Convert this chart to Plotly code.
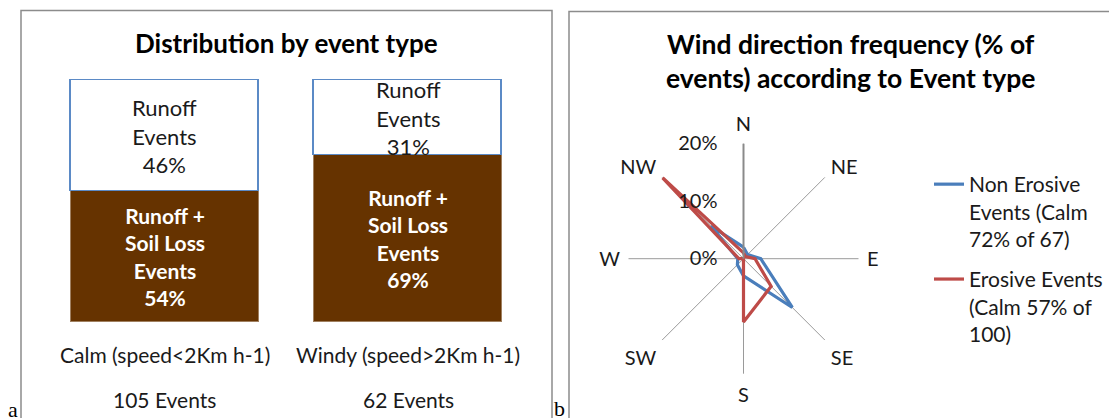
import plotly.graph_objects as go

# ---- Panel a data ----
categories = ["Calm (speed<2Km h-1)", "Windy (speed>2Km h-1)"]
event_counts = [105, 62]
soil_loss_share = [0.54, 0.69]
runoff_share = [0.46, 0.31]

# ---- Panel b data ----
directions = ["N", "NE", "E", "SE", "S", "SW", "W", "NW"]
non_erosive = [0.02, 0.01, 0.03, 0.12, 0.03, 0.015, 0.01, 0.08]
erosive = [0.01, 0.005, 0.02, 0.068, 0.11, 0.0, 0.008, 0.199]
radial_ticks = [0, 0.1, 0.2]
radial_ticktext = ["0%", "10%", "20%"]
series_names = ["Non Erosive<br>Events (Calm<br>72% of 67)",
                "Erosive Events<br>(Calm 57% of<br>100)"]

W, H = 1109, 418
FONT = "Lato"
BROWN = "#663300"
BLUE = "#4A7EBB"
RED = "#BE4B48"
YMAX = 1.02

def px_x(x):
    return x / W

def px_y(y):
    return 1 - y / H

fig = go.Figure()

fig.add_trace(go.Bar(
    x=categories, y=soil_loss_share, marker=dict(color=BROWN, line=dict(color="#a08060", width=1)),
    width=0.772, showlegend=False, hoverinfo="skip", xaxis="x", yaxis="y"))
fig.add_trace(go.Bar(
    x=categories, y=runoff_share, marker=dict(color="white", line=dict(color="#5B8AC6", width=1.5)),
    width=0.772, showlegend=False, hoverinfo="skip", xaxis="x", yaxis="y"))

annotations = []
for i, cat in enumerate(categories):
    b = soil_loss_share[i]
    t = runoff_share[i]
    annotations.append(dict(
        x=cat, y=b + t / 2, xref="x", yref="y", showarrow=False, xanchor="center", yanchor="middle",
        text=f"Runoff<br>Events<br>{round(t*100)}%",
        font=dict(family=FONT, size=22, color="#1a1a1a")))
    annotations.append(dict(
        x=cat, y=b / 2, xref="x", yref="y", showarrow=False, xanchor="center", yanchor="middle",
        text=f"<b>Runoff +<br>Soil Loss<br>Events<br>{round(b*100)}%</b>",
        font=dict(family=FONT, size=21, color="white")))
    annotations.append(dict(
        x=cat, y=px_y(354), xref="x", yref="paper", showarrow=False, xanchor="center", yanchor="middle",
        text=cat, font=dict(family=FONT, size=21, color="#1a1a1a")))
    annotations.append(dict(
        x=cat, y=px_y(399), xref="x", yref="paper", showarrow=False, xanchor="center", yanchor="middle",
        text=f"{event_counts[i]} Events", font=dict(family=FONT, size=21, color="#1a1a1a")))

# titles
annotations.append(dict(x=px_x(286.5), y=px_y(43), xref="paper", yref="paper", showarrow=False,
                        xanchor="center", yanchor="middle",
                        text="<b>Distribution by event type</b>",
                        font=dict(family=FONT, size=26, color="black")))
annotations.append(dict(x=px_x(850), y=px_y(61.5), xref="paper", yref="paper", showarrow=False,
                        xanchor="center", yanchor="middle",
                        text="<b>Wind direction frequency (% of<br>events) according to Event type</b>",
                        font=dict(family=FONT, size=26.5, color="black")))
# figure panel letters
annotations.append(dict(x=px_x(13), y=px_y(395), xref="paper", yref="paper", showarrow=False,
                        xanchor="center", yanchor="top", text="a",
                        font=dict(family="Liberation Serif", size=22, color="black")))
annotations.append(dict(x=px_x(559), y=px_y(394), xref="paper", yref="paper", showarrow=False,
                        xanchor="center", yanchor="top", text="b",
                        font=dict(family="Liberation Serif", size=22, color="black")))

for vals, name, col in [(non_erosive, series_names[0], BLUE), (erosive, series_names[1], RED)]:
    fig.add_trace(go.Scatterpolar(
        r=vals + vals[:1], theta=directions + directions[:1], mode="lines",
        line=dict(color=col, width=3.2), name=name, legendgroup=name, subplot="polar"))

fig.update_layout(
    width=W, height=H, margin=dict(l=0, r=0, t=0, b=0),
    paper_bgcolor="white", plot_bgcolor="white",
    barmode="stack", bargap=0,
    xaxis=dict(domain=[px_x(42.75), px_x(529.75)], range=[-0.5, 1.5], showticklabels=False,
               showgrid=False, zeroline=False, showline=False, ticks=""),
    yaxis=dict(domain=[px_y(322), px_y(322 - 242 * YMAX)], range=[0, YMAX], showticklabels=False,
               showgrid=False, zeroline=False, showline=False, ticks=""),
    polar=dict(
        domain=dict(x=[px_x(628.5), px_x(858.5)], y=[px_y(373.7), px_y(143.7)]),
        bgcolor="white",
        radialaxis=dict(range=[0, 0.2], tickvals=radial_ticks, ticktext=radial_ticktext,
                        angle=90, tickangle=90, side="counterclockwise", showgrid=False,
                        showline=True, linecolor="#8a8a8a", linewidth=2,
                        ticks="outside", ticklen=18, tickcolor="rgba(0,0,0,0)",
                        tickfont=dict(family=FONT, size=20, color="#1a1a1a")),
        angularaxis=dict(direction="clockwise", rotation=90, showline=False,
                         gridcolor="#9a9a9a", gridwidth=1,
                         ticks="outside", ticklen=4, tickcolor="rgba(0,0,0,0)",
                         tickfont=dict(family=FONT, size=20, color="#1a1a1a")),
    ),
    legend=dict(x=px_x(929), y=px_y(164), xanchor="left", yanchor="top",
                font=dict(family=FONT, size=21, color="#1a1a1a"), valign="top",
                tracegroupgap=10, bgcolor="rgba(0,0,0,0)"),
    annotations=annotations,
    shapes=[
        dict(type="rect", xref="paper", yref="paper", x0=px_x(21), x1=px_x(552), y0=-0.1, y1=px_y(10.5),
             line=dict(color="#8c8c8c", width=1.5)),
        dict(type="rect", xref="paper", yref="paper", x0=px_x(569), x1=1.1, y0=-0.1, y1=px_y(11.5),
             line=dict(color="#8c8c8c", width=1.5)),
    ],
)

fig.write_html("out.html", config={"displayModeBar": False},
               post_script="document.body.style.margin='0';document.body.style.overflow='hidden';")
